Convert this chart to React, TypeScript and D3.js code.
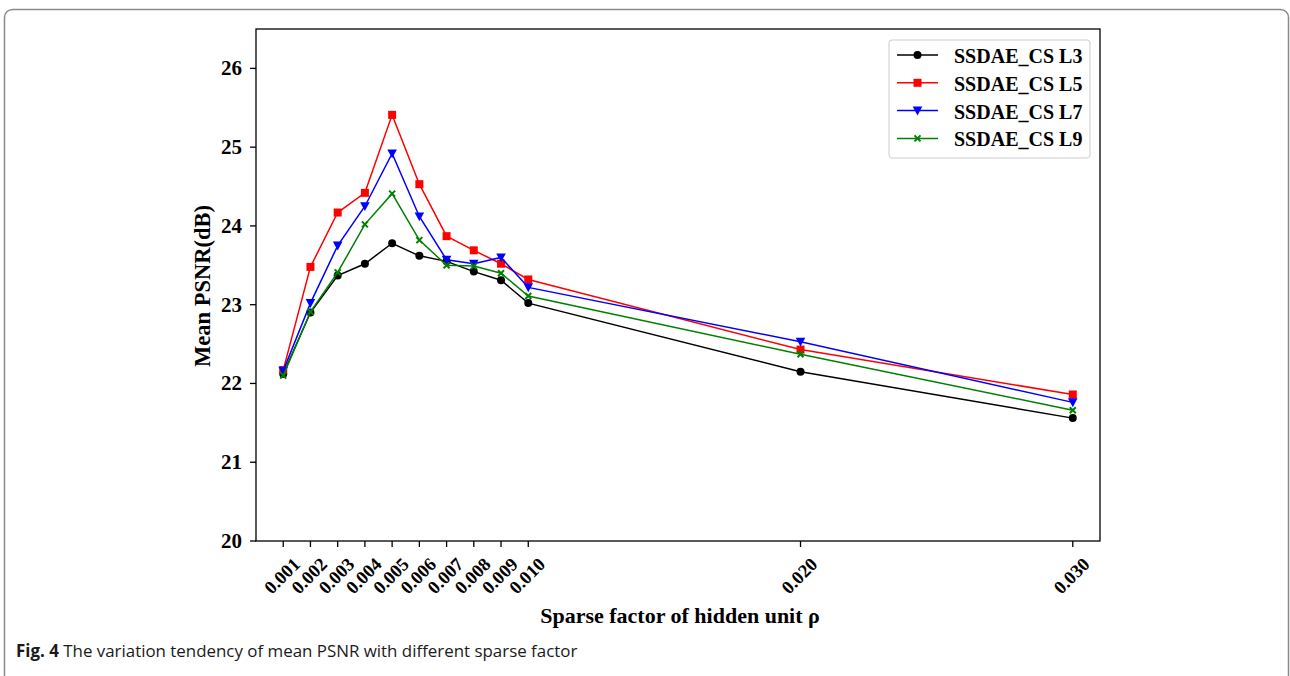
import React from 'react';
import * as d3 from 'd3';

// sparse factor values (x) and mean PSNR per series
const sparseFactors = [0.001, 0.002, 0.003, 0.004, 0.005, 0.006, 0.007, 0.008, 0.009, 0.010, 0.020, 0.030];
const psnrL3 = [22.12, 22.9, 23.37, 23.52, 23.78, 23.62, 23.55, 23.42, 23.31, 23.02, 22.15, 21.56];
const psnrL5 = [22.17, 23.48, 24.17, 24.42, 25.41, 24.53, 23.87, 23.69, 23.52, 23.32, 22.43, 21.86];
const psnrL7 = [22.16, 23.02, 23.75, 24.25, 24.92, 24.12, 23.57, 23.52, 23.6, 23.22, 22.53, 21.76];
const psnrL9 = [22.1, 22.91, 23.41, 24.02, 24.41, 23.82, 23.5, 23.49, 23.4, 23.11, 22.37, 21.66];
const yTicks = [20, 21, 22, 23, 24, 25, 26];

const seriesList = [
    { name: 'SSDAE_CS L3', values: psnrL3, color: '#000000', marker: 'circle' },
    { name: 'SSDAE_CS L5', values: psnrL5, color: '#ff0000', marker: 'square' },
    { name: 'SSDAE_CS L7', values: psnrL7, color: '#0000ff', marker: 'triangle' },
    { name: 'SSDAE_CS L9', values: psnrL9, color: '#008000', marker: 'x' },
];

const serif = '"Liberation Serif", "DejaVu Serif", serif';

const Marker: React.FC<{ kind: string; x: number; y: number; color: string }> = ({ kind, x, y, color }) => {
    if (kind === 'circle') return <circle cx={x} cy={y} r={4} fill={color} />;
    if (kind === 'square') return <rect x={x - 4} y={y - 4} width={8} height={8} fill={color} />;
    if (kind === 'triangle')
        return <path d={`M${x - 4.8},${y - 4} L${x + 4.8},${y - 4} L${x},${y + 4.8} Z`} fill={color} />;
    return (
        <path
            d={`M${x - 3},${y - 3} L${x + 3},${y + 3} M${x - 3},${y + 3} L${x + 3},${y - 3}`}
            stroke={color}
            strokeWidth={2}
        />
    );
};

const App: React.FC = () => {
    const margin = { left: 256, right: 1100, top: 29, bottom: 541 };

    const x = d3.scaleLinear().domain([0, 0.031]).range([margin.left, margin.right]);
    const y = d3.scaleLinear().domain([20, 26.5]).range([margin.bottom, margin.top]);

    const line = d3
        .line<number>()
        .x((_, i) => x(sparseFactors[i]))
        .y((d) => y(d));

    const legendX = 889;
    const legendY = 40;

    return (
        <svg
            width={1290}
            height={676}
            style={{ position: 'absolute', left: 0, top: 0, background: '#fff' }}
        >
            {/* figure frame */}
            <rect x={4.5} y={9.5} width={1284} height={700} rx={8} fill="none" stroke="#8a8a8a" strokeWidth={1.5} />

            {/* series lines */}
            {seriesList.map((s) => (
                <g key={s.name}>
                    <path d={line(s.values) ?? ''} fill="none" stroke={s.color} strokeWidth={1.5} />
                    {s.values.map((v, i) => (
                        <Marker key={i} kind={s.marker} x={x(sparseFactors[i])} y={y(v)} color={s.color} />
                    ))}
                </g>
            ))}

            {/* axes box */}
            <rect
                x={margin.left}
                y={margin.top}
                width={margin.right - margin.left}
                height={margin.bottom - margin.top}
                fill="none"
                stroke="#000"
                strokeWidth={1.3}
            />

            {/* y ticks */}
            {yTicks.map((t) => (
                <g key={t}>
                    <line x1={margin.left - 6} x2={margin.left} y1={y(t)} y2={y(t)} stroke="#000" strokeWidth={1.3} />
                    <text
                        x={margin.left - 14}
                        y={y(t)}
                        textAnchor="end"
                        dominantBaseline="central"
                        fontFamily={serif}
                        fontWeight="bold"
                        fontSize={21}
                    >
                        {t}
                    </text>
                </g>
            ))}

            {/* x ticks */}
            {sparseFactors.map((t) => (
                <g key={t}>
                    <line x1={x(t)} x2={x(t)} y1={margin.bottom} y2={margin.bottom + 6} stroke="#000" strokeWidth={1.3} />
                    <text
                        transform={`translate(${x(t) - 1},${margin.bottom + 35}) rotate(-45)`}
                        textAnchor="middle"
                        dominantBaseline="central"
                        fontFamily={serif}
                        fontWeight="bold"
                        fontSize={18.5}
                    >
                        {d3.format('.3f')(t)}
                    </text>
                </g>
            ))}

            {/* axis titles */}
            <text
                x={680}
                y={623}
                textAnchor="middle"
                fontFamily={serif}
                fontWeight="bold"
                fontSize={22}
            >
                Sparse factor of hidden unit ρ
            </text>
            <text
                transform={`translate(210,286) rotate(-90)`}
                textAnchor="middle"
                fontFamily={serif}
                fontWeight="bold"
                fontSize={22.5}
            >
                Mean PSNR(dB)
            </text>

            {/* legend */}
            <rect x={legendX} y={legendY} width={201} height={118} rx={3} fill="#fff" stroke="#cccccc" strokeWidth={1} />
            {seriesList.map((s, i) => {
                const ly = legendY + 15 + i * 27.8;
                return (
                    <g key={s.name}>
                        <line x1={897} x2={938} y1={ly} y2={ly} stroke={s.color} strokeWidth={1.5} />
                        <Marker kind={s.marker} x={917.5} y={ly} color={s.color} />
                        <text
                            x={954}
                            y={ly + 1}
                            dominantBaseline="central"
                            fontFamily={serif}
                            fontWeight="bold"
                            fontSize={20}
                        >
                            {s.name}
                        </text>
                    </g>
                );
            })}

            {/* caption */}
            <text x={16} y={657} fontFamily='"Open Sans", "Noto Sans", sans-serif' fontSize={16.9} fill="#1a1a1a">
                <tspan fontWeight="bold">Fig. 4</tspan>
                <tspan> The variation tendency of mean PSNR with different sparse factor</tspan>
            </text>
        </svg>
    );
};

export default App;
